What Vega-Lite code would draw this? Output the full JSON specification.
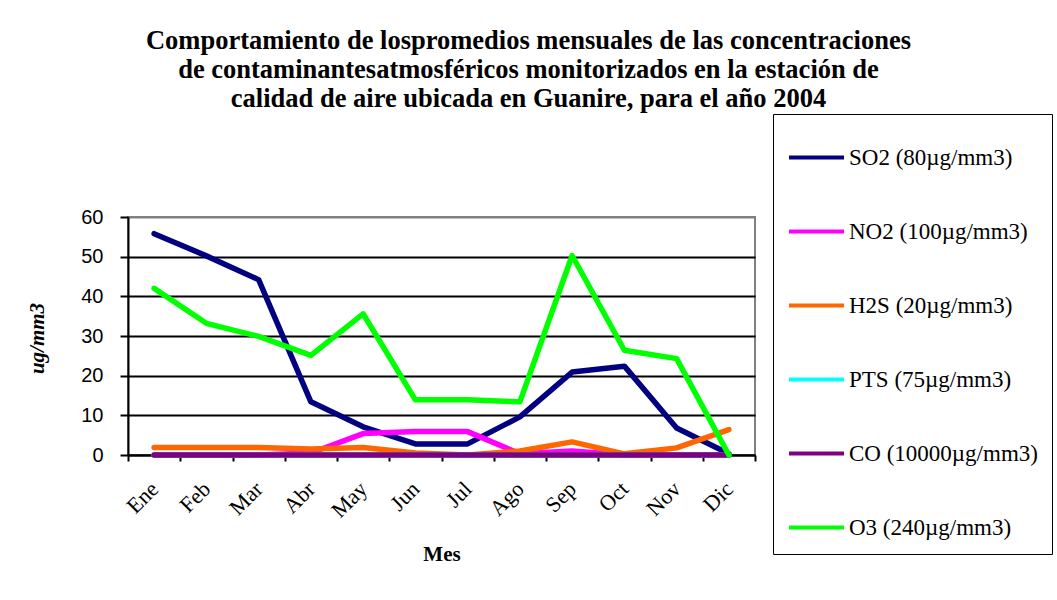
{
  "$schema": "https://vega.github.io/schema/vega-lite/v6.json",
  "autosize": "none",
  "width": 627,
  "height": 238,
  "padding": {"left": 128, "top": 217, "right": 302, "bottom": 145},
  "background": "white",
  "title": {
    "text": ["Comportamiento de lospromedios mensuales de las concentraciones", "de contaminantesatmosféricos monitorizados en la estación de", "calidad de aire ubicada en Guanire, para el año 2004"],
    "font": "Liberation Serif",
    "fontSize": 26.5,
    "fontWeight": "bold",
    "color": "black",
    "lineHeight": 29,
    "anchor": "middle",
    "dx": 87,
    "offset": 1
  },
  "data": {
    "values": [
      {"Mes": "Ene", "Contaminante": "SO2 (80µg/mm3)", "v": 55.8},
      {"Mes": "Feb", "Contaminante": "SO2 (80µg/mm3)", "v": 50.2},
      {"Mes": "Mar", "Contaminante": "SO2 (80µg/mm3)", "v": 44.2},
      {"Mes": "Abr", "Contaminante": "SO2 (80µg/mm3)", "v": 13.4},
      {"Mes": "May", "Contaminante": "SO2 (80µg/mm3)", "v": 7.1},
      {"Mes": "Jun", "Contaminante": "SO2 (80µg/mm3)", "v": 2.8},
      {"Mes": "Jul", "Contaminante": "SO2 (80µg/mm3)", "v": 2.8},
      {"Mes": "Ago", "Contaminante": "SO2 (80µg/mm3)", "v": 9.6},
      {"Mes": "Sep", "Contaminante": "SO2 (80µg/mm3)", "v": 20.9},
      {"Mes": "Oct", "Contaminante": "SO2 (80µg/mm3)", "v": 22.4},
      {"Mes": "Nov", "Contaminante": "SO2 (80µg/mm3)", "v": 6.8},
      {"Mes": "Dic", "Contaminante": "SO2 (80µg/mm3)", "v": 0.3},
      {"Mes": "Ene", "Contaminante": "NO2 (100µg/mm3)", "v": 0},
      {"Mes": "Feb", "Contaminante": "NO2 (100µg/mm3)", "v": 0},
      {"Mes": "Mar", "Contaminante": "NO2 (100µg/mm3)", "v": 0},
      {"Mes": "Abr", "Contaminante": "NO2 (100µg/mm3)", "v": 0.5},
      {"Mes": "May", "Contaminante": "NO2 (100µg/mm3)", "v": 5.4},
      {"Mes": "Jun", "Contaminante": "NO2 (100µg/mm3)", "v": 5.9},
      {"Mes": "Jul", "Contaminante": "NO2 (100µg/mm3)", "v": 5.9},
      {"Mes": "Ago", "Contaminante": "NO2 (100µg/mm3)", "v": 0.3},
      {"Mes": "Sep", "Contaminante": "NO2 (100µg/mm3)", "v": 1.0},
      {"Mes": "Oct", "Contaminante": "NO2 (100µg/mm3)", "v": 0},
      {"Mes": "Nov", "Contaminante": "NO2 (100µg/mm3)", "v": 0},
      {"Mes": "Dic", "Contaminante": "NO2 (100µg/mm3)", "v": 0},
      {"Mes": "Ene", "Contaminante": "H2S (20µg/mm3)", "v": 1.9},
      {"Mes": "Feb", "Contaminante": "H2S (20µg/mm3)", "v": 1.9},
      {"Mes": "Mar", "Contaminante": "H2S (20µg/mm3)", "v": 1.9},
      {"Mes": "Abr", "Contaminante": "H2S (20µg/mm3)", "v": 1.5},
      {"Mes": "May", "Contaminante": "H2S (20µg/mm3)", "v": 1.9},
      {"Mes": "Jun", "Contaminante": "H2S (20µg/mm3)", "v": 0.5},
      {"Mes": "Jul", "Contaminante": "H2S (20µg/mm3)", "v": 0},
      {"Mes": "Ago", "Contaminante": "H2S (20µg/mm3)", "v": 1.0},
      {"Mes": "Sep", "Contaminante": "H2S (20µg/mm3)", "v": 3.3},
      {"Mes": "Oct", "Contaminante": "H2S (20µg/mm3)", "v": 0.3},
      {"Mes": "Nov", "Contaminante": "H2S (20µg/mm3)", "v": 1.8},
      {"Mes": "Dic", "Contaminante": "H2S (20µg/mm3)", "v": 6.4},
      {"Mes": "Ene", "Contaminante": "PTS (75µg/mm3)", "v": 0},
      {"Mes": "Feb", "Contaminante": "PTS (75µg/mm3)", "v": 0},
      {"Mes": "Mar", "Contaminante": "PTS (75µg/mm3)", "v": 0},
      {"Mes": "Abr", "Contaminante": "PTS (75µg/mm3)", "v": 0},
      {"Mes": "May", "Contaminante": "PTS (75µg/mm3)", "v": 0},
      {"Mes": "Jun", "Contaminante": "PTS (75µg/mm3)", "v": 0},
      {"Mes": "Jul", "Contaminante": "PTS (75µg/mm3)", "v": 0},
      {"Mes": "Ago", "Contaminante": "PTS (75µg/mm3)", "v": 0},
      {"Mes": "Sep", "Contaminante": "PTS (75µg/mm3)", "v": 0},
      {"Mes": "Oct", "Contaminante": "PTS (75µg/mm3)", "v": 0},
      {"Mes": "Nov", "Contaminante": "PTS (75µg/mm3)", "v": 0},
      {"Mes": "Dic", "Contaminante": "PTS (75µg/mm3)", "v": 0},
      {"Mes": "Ene", "Contaminante": "CO (10000µg/mm3)", "v": 0},
      {"Mes": "Feb", "Contaminante": "CO (10000µg/mm3)", "v": 0},
      {"Mes": "Mar", "Contaminante": "CO (10000µg/mm3)", "v": 0},
      {"Mes": "Abr", "Contaminante": "CO (10000µg/mm3)", "v": 0},
      {"Mes": "May", "Contaminante": "CO (10000µg/mm3)", "v": 0},
      {"Mes": "Jun", "Contaminante": "CO (10000µg/mm3)", "v": 0},
      {"Mes": "Jul", "Contaminante": "CO (10000µg/mm3)", "v": 0},
      {"Mes": "Ago", "Contaminante": "CO (10000µg/mm3)", "v": 0},
      {"Mes": "Sep", "Contaminante": "CO (10000µg/mm3)", "v": 0},
      {"Mes": "Oct", "Contaminante": "CO (10000µg/mm3)", "v": 0},
      {"Mes": "Nov", "Contaminante": "CO (10000µg/mm3)", "v": 0},
      {"Mes": "Dic", "Contaminante": "CO (10000µg/mm3)", "v": 0},
      {"Mes": "Ene", "Contaminante": "O3 (240µg/mm3)", "v": 42.0},
      {"Mes": "Feb", "Contaminante": "O3 (240µg/mm3)", "v": 33.2},
      {"Mes": "Mar", "Contaminante": "O3 (240µg/mm3)", "v": 29.9},
      {"Mes": "Abr", "Contaminante": "O3 (240µg/mm3)", "v": 25.1},
      {"Mes": "May", "Contaminante": "O3 (240µg/mm3)", "v": 35.6},
      {"Mes": "Jun", "Contaminante": "O3 (240µg/mm3)", "v": 13.9},
      {"Mes": "Jul", "Contaminante": "O3 (240µg/mm3)", "v": 13.9},
      {"Mes": "Ago", "Contaminante": "O3 (240µg/mm3)", "v": 13.4},
      {"Mes": "Sep", "Contaminante": "O3 (240µg/mm3)", "v": 50.3},
      {"Mes": "Oct", "Contaminante": "O3 (240µg/mm3)", "v": 26.4},
      {"Mes": "Nov", "Contaminante": "O3 (240µg/mm3)", "v": 24.3},
      {"Mes": "Dic", "Contaminante": "O3 (240µg/mm3)", "v": 0}
    ]
  },
  "mark": {"type": "line", "strokeWidth": 5.5, "strokeCap": "round", "strokeJoin": "round"},
  "encoding": {
    "x": {
      "field": "Mes",
      "type": "ordinal",
      "sort": ["Ene", "Feb", "Mar", "Abr", "May", "Jun", "Jul", "Ago", "Sep", "Oct", "Nov", "Dic"],
      "scale": {"type": "band", "paddingInner": 0, "paddingOuter": 0},
      "bandPosition": 0.5,
      "axis": {
        "title": "Mes",
        "titleFont": "Liberation Serif",
        "titleFontSize": 21,
        "titleFontWeight": "bold",
        "titleColor": "black",
        "titlePadding": 22,
        "labelAngle": -45,
        "labelAlign": "right",
        "labelBaseline": "top",
        "labelFont": "Liberation Serif",
        "labelFontSize": 22,
        "labelColor": "black",
        "labelPadding": 17,
        "labelOffset": -7,
        "tickBand": "extent",
        "tickSize": 6,
        "tickColor": "black",
        "tickWidth": 2,
        "domainColor": "black",
        "domainWidth": 2,
        "grid": false
      }
    },
    "y": {
      "field": "v",
      "type": "quantitative",
      "scale": {"domain": [0, 60], "nice": false},
      "axis": {
        "title": "ug/mm3",
        "titleFont": "Liberation Serif",
        "titleFontSize": 21,
        "titleFontWeight": "bold",
        "titleFontStyle": "italic",
        "titleColor": "black",
        "titleX": -91,
        "titleY": 121,
        "titleAlign": "center",
        "titleBaseline": "middle",
        "titleAngle": -90,
        "values": [0, 10, 20, 30, 40, 50, 60],
        "labelFont": "Liberation Sans",
        "labelFontSize": 20,
        "labelColor": "black",
        "labelPadding": 17,
        "tickSize": 8,
        "tickColor": "black",
        "tickWidth": 2,
        "domainColor": "black",
        "domainWidth": 2,
        "grid": true,
        "gridColor": {"condition": {"test": "datum.value == 60", "value": "#808080"}, "value": "black"},
        "gridWidth": 2
      }
    },
    "color": {
      "field": "Contaminante",
      "type": "nominal",
      "sort": null,
      "scale": {
        "domain": ["SO2 (80µg/mm3)", "NO2 (100µg/mm3)", "H2S (20µg/mm3)", "PTS (75µg/mm3)", "CO (10000µg/mm3)", "O3 (240µg/mm3)"],
        "range": ["#000080", "#FF00FF", "#FF6600", "#00FFFF", "#800080", "#00FF00"]
      },
      "legend": {
        "title": null,
        "orient": "none",
        "legendX": 645,
        "legendY": -103,
        "strokeColor": "black",
        "fillColor": "white",
        "padding": 14,
        "symbolType": "stroke",
        "symbolSize": 3025,
        "symbolStrokeWidth": 4,
        "labelFont": "Liberation Serif",
        "labelFontSize": 23,
        "labelColor": "black",
        "labelOffset": 3,
        "labelLimit": 400,
        "rowPadding": 32
      }
    }
  },
  "config": {
    "view": {"stroke": "#808080", "strokeWidth": 2}
  }
}
